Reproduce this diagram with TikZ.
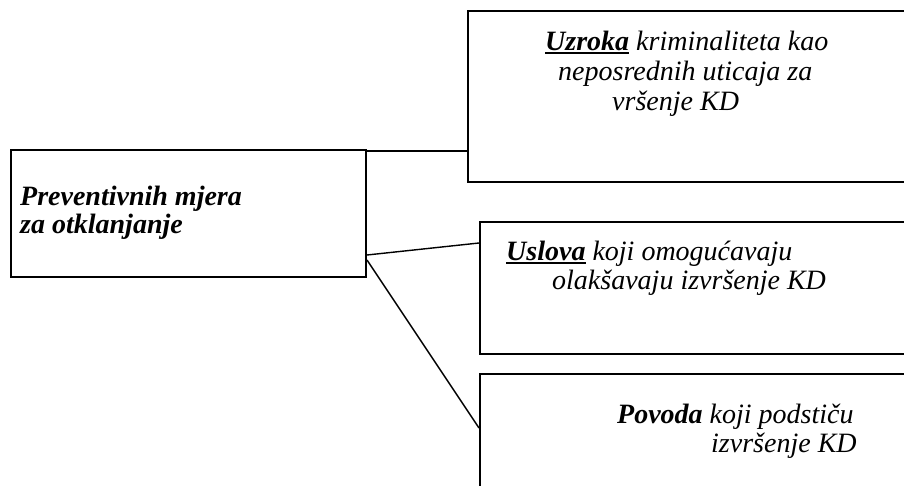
\documentclass[tikz,border=0pt]{standalone}
\usepackage{fontspec}
\setmainfont{Liberation Serif}
\newcommand\myul[1]{\setbox0\hbox{#1}\rlap{\rule[-3.5pt]{\wd0}{1.7pt}}\box0\relax}
\begin{document}
\begin{tikzpicture}[x=1pt,y=-1pt,
  boxnode/.style={draw,rectangle,line width=2pt,inner sep=0pt,anchor=north west},
  conn/.style={line width=1.4pt},
  txt/.style={anchor=base west,inner sep=0pt,font=\fontsize{28}{30}\selectfont\itshape}]
\useasboundingbox (0,0) rectangle (904,485);
\fill[white] (0,0) rectangle (904,485);
% boxes
\node[boxnode,minimum width=355pt,minimum height=127pt] (L) at (10,149) {};
\node[boxnode,minimum width=460pt,minimum height=171pt] (T) at (467,10) {};
\node[boxnode,minimum width=450pt,minimum height=132pt] (M) at (479,221) {};
\node[boxnode,minimum width=450pt,minimum height=140pt] (B) at (479,373) {};
% texts
\node[txt] (l1) at (20,205) {\bfseries Preventivnih mjera};
\node[txt] (l2) at (20,233) {\bfseries za otklanjanje};
\node[txt] (t1) at (545,50) {\myul{\bfseries Uzroka} kriminaliteta kao};
\node[txt] (t2) at (558,80) {neposrednih uticaja za};
\node[txt] (t3) at (612,110) {vršenje KD};
\node[txt] (m1) at (506,260) {\myul{\bfseries Uslova} koji omogućavaju};
\node[txt] (m2) at (552,289) {olakšavaju izvršenje KD};
\node[txt] (b1) at (617,423) {{\bfseries Povoda} koji podstiču};
\node[txt] (b2) at (711,452) {izvršenje KD};
% connectors
\coordinate (ca) at ([yshift=-2pt]L.north east);
\coordinate (cb) at ([yshift=23pt]L.south east);
\coordinate (cc) at ([yshift=18pt]L.south east);
\draw[conn] (ca) -- (ca -| T.west);
\draw[conn] (cb) -- ([yshift=-22pt]M.north west);
\draw[conn] (cc) -- ([yshift=-55pt]B.north west);
\end{tikzpicture}
\end{document}
